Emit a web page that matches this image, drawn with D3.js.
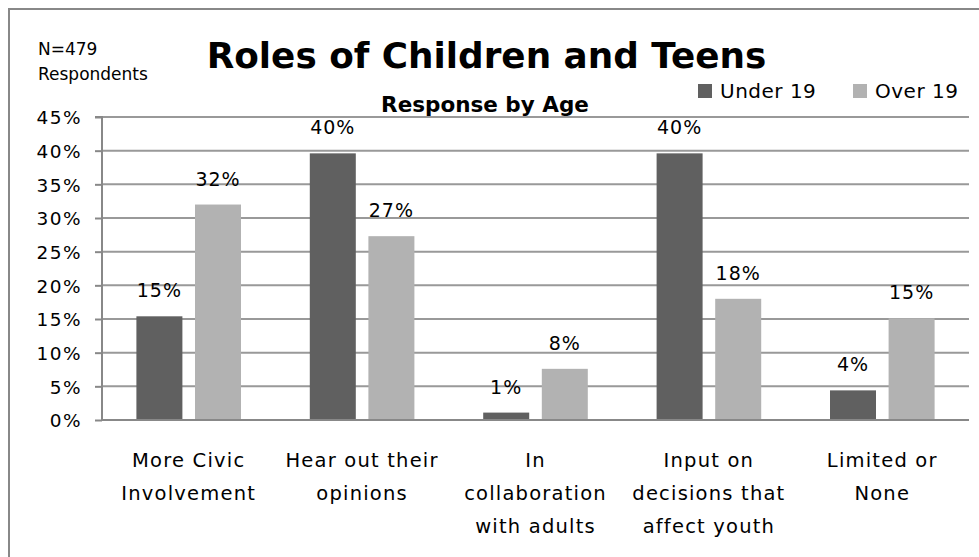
<!DOCTYPE html>
<html><head><meta charset="utf-8">
<script src="https://cdnjs.cloudflare.com/ajax/libs/d3/7.8.5/d3.min.js"></script>
<style>body{margin:0;background:#fff}svg{display:block}</style>
</head><body>
<script>
const categories = ["More Civic Involvement","Hear out their opinions","In collaboration with adults","Input on decisions that affect youth","Limited or None"];
const categoryLines = [["More Civic","Involvement"],["Hear out their","opinions"],["In","collaboration","with adults"],["Input on","decisions that","affect youth"],["Limited or","None"]];
const seriesNames = ["Under 19","Over 19"];
const under19 = [15.4, 39.6, 1.1, 39.6, 4.4];
const over19 = [32.0, 27.3, 7.6, 18.0, 15.1];
const yTicks = [0,5,10,15,20,25,30,35,40,45];
const colors = ["#606060","#b2b2b2"];

(function(){
const W=979,H=557;
const svg=d3.select("body").append("svg").attr("width",W).attr("height",H);
svg.append("rect").attr("x",9).attr("y",9).attr("width",990).attr("height",570).attr("fill","#fff").attr("stroke","#888").attr("stroke-width",2);

const pL=102,pR=969,pT=117,pB=420;
const y=d3.scaleLinear().domain([0,45]).range([pB,pT]);
const x0=d3.scaleBand().domain(categories).range([pL,pR]);
const x1=d3.scaleBand().domain(seriesNames).range([0,x0.bandwidth()]).paddingInner(0.215).paddingOuter(0.587);

svg.append("g").selectAll("line").data(yTicks.filter(d=>d>0)).join("line")
  .attr("x1",pL).attr("x2",pR).attr("y1",d=>y(d)).attr("y2",d=>y(d))
  .attr("stroke","#999").attr("stroke-width",2);

const ya=svg.append("g").attr("transform",`translate(${pL},0)`)
  .call(d3.axisLeft(y).tickValues(yTicks).tickFormat(d=>d+"%").tickSize(7).tickPadding(13));
ya.select(".domain").attr("stroke","#888").attr("stroke-width",2).attr("d",`M-7,${pT}H0V${pB}`);
ya.selectAll(".tick line").attr("stroke","#888").attr("stroke-width",2);
ya.selectAll(".tick text").attr("font-family","DejaVu Sans").attr("font-size",18.5).attr("letter-spacing","1.5px").attr("fill","#000").attr("dy","0.36em");

const data=categories.map((c,i)=>({c,vals:[under19[i],over19[i]]}));
const g=svg.append("g").selectAll("g").data(data).join("g").attr("transform",d=>`translate(${x0(d.c)},0)`);
g.selectAll("rect").data(d=>d.vals.map((v,j)=>({s:seriesNames[j],v,j}))).join("rect")
  .attr("x",d=>x1(d.s)).attr("width",x1.bandwidth()).attr("y",d=>y(d.v)).attr("height",d=>pB-y(d.v))
  .attr("fill",d=>colors[d.j]);
g.selectAll("text").data(d=>d.vals.map((v,j)=>({s:seriesNames[j],v,j}))).join("text")
  .attr("x",d=>x1(d.s)+x1.bandwidth()/2).attr("y",d=>y(d.v)-19)
  .attr("text-anchor","middle").attr("font-family","DejaVu Sans").attr("font-size",19).attr("letter-spacing","1px")
  .text(d=>Math.round(d.v)+"%");

svg.append("line").attr("x1",pL).attr("x2",pR).attr("y1",pB).attr("y2",pB).attr("stroke","#888").attr("stroke-width",2);

categories.forEach((c,i)=>{
  const cx=x0(c)+x0.bandwidth()/2;
  const t=svg.append("text").attr("text-anchor","middle").attr("font-family","DejaVu Sans").attr("font-size",19.5).attr("letter-spacing","1.2px");
  categoryLines[i].forEach((ln,k)=>t.append("tspan").attr("x",cx).attr("y",467+k*33).text(ln));
});

svg.append("text").attr("x",486.5).attr("y",68).attr("text-anchor","middle").attr("font-family","DejaVu Sans").attr("font-weight","bold").attr("font-size",35.8).text("Roles of Children and Teens");
svg.append("text").attr("x",485).attr("y",112).attr("text-anchor","middle").attr("font-family","DejaVu Sans").attr("font-weight","bold").attr("font-size",21.5).text("Response by Age");
svg.append("text").attr("x",38).attr("y",55).attr("font-family","DejaVu Sans").attr("font-size",17).text("N=479");
svg.append("text").attr("x",38).attr("y",80).attr("font-family","DejaVu Sans").attr("font-size",17).text("Respondents");

const legX=[698,853];
seriesNames.forEach((s,j)=>{
  svg.append("rect").attr("x",legX[j]).attr("y",84).attr("width",14).attr("height",14).attr("fill",colors[j]);
  svg.append("text").attr("x",legX[j]+22).attr("y",98).attr("font-family","DejaVu Sans").attr("font-size",20).attr("letter-spacing","0.5px").text(s);
});
})();
</script>
</body></html>
